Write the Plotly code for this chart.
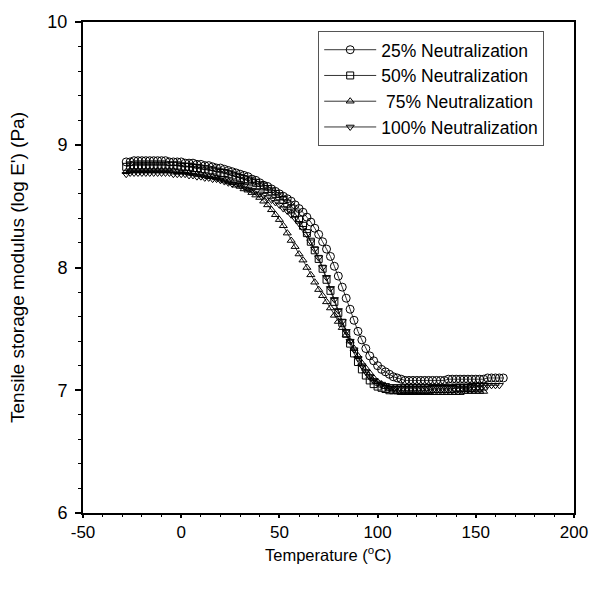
import plotly.graph_objects as go

temperature = [-28, -26, -24, -22, -20, -18, -16, -14, -12, -10,
               -8, -6, -4, -2, 0, 2, 4, 6, 8, 10,
               12, 14, 16, 18, 20, 22, 24, 26, 28, 30,
               32, 34, 36, 38, 40, 42, 44, 46, 48, 50,
               52, 54, 56, 58, 60, 62, 64, 66, 68, 70,
               72, 74, 76, 78, 80, 82, 84, 86, 88, 90,
               92, 94, 96, 98, 100, 102, 104, 106, 108, 110,
               112, 114, 116, 118, 120, 122, 124, 126, 128, 130,
               132, 134, 136, 138, 140, 142, 144, 146, 148, 150,
               152, 154, 156, 158, 160, 162, 164]

logE_25 = [8.86, 8.86, 8.87, 8.87, 8.87, 8.87, 8.87, 8.87, 8.87, 8.87,
           8.87, 8.86, 8.86, 8.86, 8.86, 8.85, 8.85, 8.85, 8.84, 8.84,
           8.83, 8.83, 8.82, 8.81, 8.81, 8.80, 8.79, 8.78, 8.77, 8.76,
           8.75, 8.74, 8.72, 8.71, 8.69, 8.67, 8.66, 8.64, 8.62, 8.60,
           8.58, 8.56, 8.54, 8.51, 8.48, 8.45, 8.41, 8.37, 8.32, 8.27,
           8.21, 8.15, 8.09, 8.01, 7.93, 7.84, 7.75, 7.66, 7.57, 7.48,
           7.41, 7.34, 7.28, 7.24, 7.20, 7.17, 7.15, 7.13, 7.11, 7.10,
           7.09, 7.08, 7.08, 7.08, 7.08, 7.08, 7.08, 7.08, 7.08, 7.08,
           7.08, 7.08, 7.09, 7.09, 7.09, 7.09, 7.09, 7.09, 7.09, 7.09,
           7.09, 7.09, 7.10, 7.10, 7.10, 7.10, 7.10]

logE_50 = [8.82, 8.83, 8.83, 8.83, 8.83, 8.83, 8.83, 8.83, 8.83, 8.83,
           8.83, 8.83, 8.83, 8.83, 8.82, 8.82, 8.82, 8.81, 8.81, 8.80,
           8.80, 8.79, 8.79, 8.78, 8.77, 8.77, 8.76, 8.75, 8.74, 8.73,
           8.72, 8.71, 8.70, 8.69, 8.67, 8.66, 8.64, 8.62, 8.60, 8.58,
           8.55, 8.52, 8.48, 8.44, 8.39, 8.34, 8.28, 8.21, 8.14, 8.07,
           7.99, 7.90, 7.81, 7.72, 7.63, 7.55, 7.46, 7.38, 7.30, 7.23,
           7.17, 7.12, 7.08, 7.05, 7.03, 7.02, 7.01, 7.00, 7.00, 7.00,
           7.00, 7.00, 7.00, 7.00, 7.00, 7.00, 7.00, 7.00, 7.01, 7.01,
           7.01, 7.01, 7.01, 7.01, 7.02, 7.02, 7.02, 7.02, 7.02, 7.03,
           7.03, 7.03]

logE_75 = [8.78, 8.79, 8.79, 8.79, 8.79, 8.79, 8.79, 8.79, 8.79, 8.79,
           8.79, 8.79, 8.79, 8.78, 8.78, 8.78, 8.77, 8.77, 8.76, 8.76,
           8.75, 8.74, 8.74, 8.73, 8.72, 8.71, 8.70, 8.69, 8.67, 8.66,
           8.64, 8.63, 8.61, 8.59, 8.57, 8.54, 8.51, 8.47, 8.43, 8.39,
           8.34, 8.28, 8.22, 8.17, 8.11, 8.06, 8.00, 7.94, 7.88, 7.82,
           7.77, 7.72, 7.67, 7.61, 7.56, 7.51, 7.45, 7.40, 7.34, 7.28,
           7.22, 7.18, 7.14, 7.10, 7.07, 7.05, 7.03, 7.01, 7.00, 6.99,
           6.98, 6.98, 6.98, 6.98, 6.98, 6.98, 6.98, 6.98, 6.98, 6.98,
           6.98, 6.98, 6.98, 6.98, 6.98, 6.98, 6.99, 6.99, 6.99, 6.99,
           6.99, 6.99]

logE_100 = [8.76, 8.77, 8.77, 8.77, 8.77, 8.77, 8.77, 8.77, 8.77, 8.77,
            8.77, 8.77, 8.76, 8.76, 8.76, 8.76, 8.75, 8.75, 8.74, 8.74,
            8.73, 8.73, 8.72, 8.72, 8.71, 8.70, 8.69, 8.68, 8.68, 8.67,
            8.66, 8.64, 8.63, 8.62, 8.60, 8.59, 8.57, 8.55, 8.53, 8.51,
            8.48, 8.46, 8.43, 8.40, 8.36, 8.32, 8.27, 8.21, 8.15, 8.08,
            8.00, 7.92, 7.83, 7.74, 7.65, 7.56, 7.48, 7.40, 7.33, 7.26,
            7.20, 7.15, 7.11, 7.08, 7.06, 7.05, 7.04, 7.03, 7.03, 7.03,
            7.03, 7.03, 7.03, 7.03, 7.03, 7.03, 7.03, 7.03, 7.03, 7.03,
            7.03, 7.03, 7.03, 7.03, 7.03, 7.03, 7.03, 7.03, 7.04, 7.04,
            7.04, 7.04, 7.04, 7.04, 7.04, 7.04]

series_names = ["25% Neutralization", "50% Neutralization",
                " 75% Neutralization", "100% Neutralization"]
series_values = [logE_25, logE_50, logE_75, logE_100]
series_symbols = ["circle-open", "square-open", "triangle-up-open", "triangle-down-open"]
series_sizes = [8, 7, 7, 7]

x_ticks = [-50, 0, 50, 100, 150, 200]
y_ticks = [6, 7, 8, 9, 10]

font_family = "Liberation Sans, Arial, sans-serif"

fig = go.Figure()
for name, vals, sym, sz in zip(series_names, series_values, series_symbols, series_sizes):
    fig.add_trace(go.Scatter(
        x=temperature[:len(vals)], y=vals, name=name,
        mode="lines+markers",
        line=dict(color="black", width=0.8),
        marker=dict(symbol=sym, size=sz, color="black", line=dict(width=1, color="black")),
    ))

fig.add_annotation(
    text="Temperature (<sup>o</sup>C)", xref="paper", yref="paper",
    x=0.5, y=-0.084, xanchor="center", yanchor="middle",
    showarrow=False, font=dict(size=16.5, family=font_family, color="black"),
)

fig.update_layout(
    width=601, height=589,
    margin=dict(l=83, r=27, t=17, b=76),
    paper_bgcolor="white", plot_bgcolor="white",
    font=dict(family=font_family, size=17, color="black"),
    showlegend=True,
    legend=dict(
        x=0.479, y=0.982, xanchor="left", yanchor="top",
        bgcolor="white", bordercolor="#555", borderwidth=1,
        font=dict(size=17.5, family=font_family),
        tracegroupgap=0, itemwidth=52,
    ),
    xaxis=dict(
        range=[-50, 200], tickvals=x_ticks, ticktext=[str(v) for v in x_ticks],
        showgrid=False, zeroline=False,
        showline=True, linecolor="black", linewidth=2, mirror=True,
        ticks="outside", ticklen=3, tickwidth=2, tickcolor="black",
        minor=dict(dtick=10, ticks="outside", ticklen=2, tickwidth=1, tickcolor="black"),
        tickfont=dict(size=17),
    ),
    yaxis=dict(
        range=[6, 10], tickvals=y_ticks, ticktext=[str(v) for v in y_ticks],
        showgrid=False, zeroline=False,
        showline=True, linecolor="black", linewidth=2, mirror=True,
        ticks="outside", ticklen=6, tickwidth=2, tickcolor="black",
        ticklabelstandoff=4,
        minor=dict(dtick=0.2, ticks="outside", ticklen=3, tickwidth=1, tickcolor="black"),
        title=dict(text="Tensile storage modulus (log E') (Pa)", font=dict(size=19), standoff=18),
        tickfont=dict(size=18),
    ),
)

fig.write_html("out.html")
